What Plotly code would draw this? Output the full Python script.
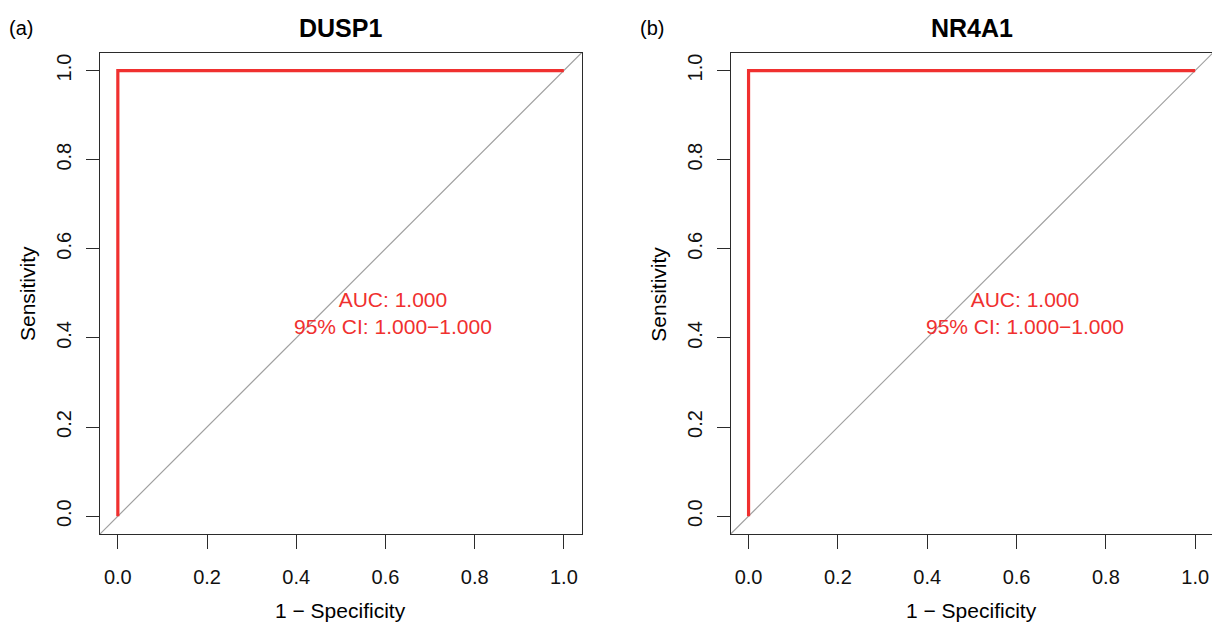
import plotly.graph_objects as go

# ROC curves (1 - specificity vs sensitivity) for the two genes
genes = ["DUSP1", "NR4A1"]
panel_tags = ["(a)", "(b)"]
fpr_dusp1 = [0.0, 0.0, 1.0]
tpr_dusp1 = [0.0, 1.0, 1.0]
fpr_nr4a1 = [0.0, 0.0, 1.0]
tpr_nr4a1 = [0.0, 1.0, 1.0]
auc_values = [1.000, 1.000]
ci_low = [1.000, 1.000]
ci_high = [1.000, 1.000]
tick_vals = [0.0, 0.2, 0.4, 0.6, 0.8, 1.0]
tick_text = ["0.0", "0.2", "0.4", "0.6", "0.8", "1.0"]
diag = [-0.04, 1.04]

W, H = 1212, 624
FONT = "Liberation Sans, Arial, Helvetica, sans-serif"
ROC_RED = "#F0302F"
AXIS_COL = "#2b2b2b"


def px(x):
    return x / W


def py(y):
    return 1 - y / H


fig = go.Figure()

curves = [(fpr_dusp1, tpr_dusp1), (fpr_nr4a1, tpr_nr4a1)]
axes = [("x", "y"), ("x2", "y2")]
for (fx, ty), (xa, ya) in zip(curves, axes):
    fig.add_trace(go.Scatter(x=diag, y=diag, mode="lines", xaxis=xa, yaxis=ya,
                             line=dict(color="#a0a0a0", width=1.2), hoverinfo="skip",
                             showlegend=False))
    fig.add_trace(go.Scatter(x=fx, y=ty, mode="lines", xaxis=xa, yaxis=ya,
                             line=dict(color=ROC_RED, width=3.2), showlegend=False))

y_dom = [py(534), py(52.7)]
x_doms = [[px(100), px(581.7)], [px(730.7), 1.0]]
x_ranges = [[-0.04, 1.04], [-0.04, (W - 749) / 446.2]]

common_axis = dict(
    showgrid=False, zeroline=False, showline=True, linecolor=AXIS_COL, linewidth=1.3,
    ticks="outside", tickcolor=AXIS_COL, tickwidth=1.3,
    tickvals=tick_vals, ticktext=tick_text,
    tickfont=dict(family=FONT, size=20, color="#111111"),
)

layout = dict(
    width=W, height=H, margin=dict(l=0, r=0, t=0, b=0),
    paper_bgcolor="white", plot_bgcolor="white", showlegend=False,
)
for i in range(2):
    sfx = "" if i == 0 else str(i + 1)
    layout["xaxis" + sfx] = dict(common_axis, domain=x_doms[i], range=x_ranges[i],
                                 ticklen=14, mirror=True, ticklabelstandoff=11,
                                 anchor="y" + sfx)
    layout["yaxis" + sfx] = dict(common_axis, domain=y_dom, range=[-0.04, 1.04],
                                 ticklen=13, tickangle=-90, ticklabelstandoff=7,
                                 mirror=(i == 0), anchor="x" + sfx)
fig.update_layout(**layout)


def label(x, y, text, size, color="black", angle=0):
    return dict(x=px(x), y=py(y), xref="paper", yref="paper", text=text,
                showarrow=False, xanchor="center", yanchor="middle",
                textangle=angle, font=dict(family=FONT, size=size, color=color))


annotations = []
for i in range(2):
    left = 100 if i == 0 else 730.7
    zero_x = 118.3 if i == 0 else 749.0
    cx = left + 240.8
    annotations.append(label(cx, 28, "<b>%s</b>" % genes[i], 25))
    annotations.append(label(zero_x - 97, 28, panel_tags[i], 20))
    annotations.append(label(cx, 610, "1 \u2212 Specificity", 21))
    annotations.append(label(left - 73, 294, "Sensitivity", 21, angle=-90))
    xa = "x" if i == 0 else "x2"
    ya = "y" if i == 0 else "y2"
    annotations.append(dict(x=0.618, y=0.455, xref=xa, yref=ya, showarrow=False,
                            xanchor="center", yanchor="middle",
                            text="AUC: %.3f<br>95%% CI: %.3f\u2212%.3f"
                                 % (auc_values[i], ci_low[i], ci_high[i]),
                            align="center",
                            font=dict(family=FONT, size=21, color=ROC_RED)))
fig.update_layout(annotations=annotations)

fig.write_html("out.html")
